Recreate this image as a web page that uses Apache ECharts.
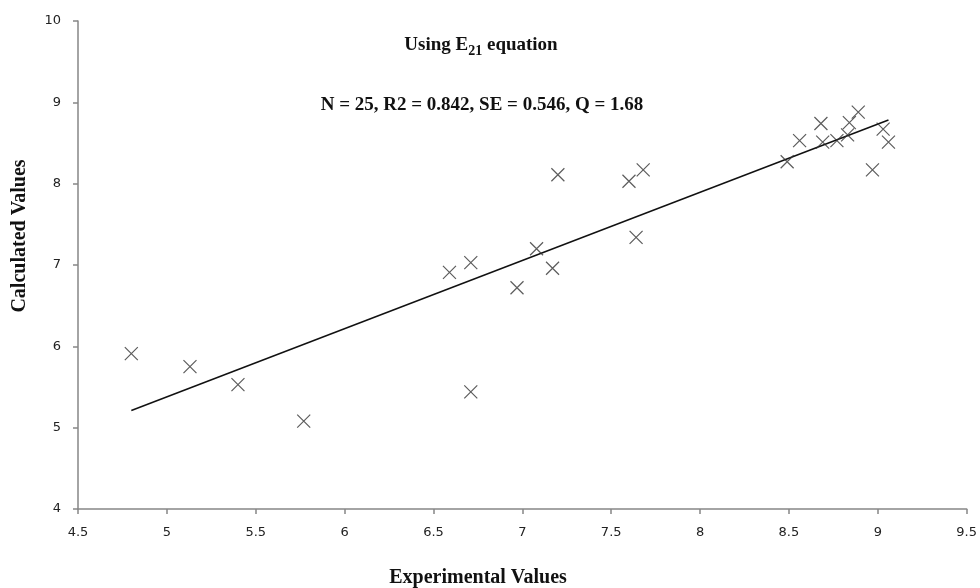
<!DOCTYPE html>
<html><head><meta charset="utf-8">
<script src="https://cdn.jsdelivr.net/npm/echarts@6/dist/echarts.min.js"></script>
<style>html,body{margin:0;padding:0;background:#fff}#c{width:980px;height:588px}</style>
</head><body><div id="c"></div>
<script>
const experimental = [4.80, 5.13, 5.40, 5.77, 6.59, 6.71, 6.71, 6.97, 7.08, 7.17, 7.20, 7.60, 7.68, 7.64,
  8.49, 8.56, 8.68, 8.69, 8.77, 8.83, 8.84, 8.89, 9.03, 9.06, 8.97];
const calculated = [5.91, 5.75, 5.53, 5.08, 6.91, 7.03, 5.44, 6.72, 7.20, 6.96, 8.11, 8.03, 8.17, 7.34,
  8.27, 8.53, 8.74, 8.51, 8.53, 8.60, 8.75, 8.88, 8.67, 8.51, 8.17];
const xTicks = [4.5, 5, 5.5, 6, 6.5, 7, 7.5, 8, 8.5, 9, 9.5];
const yTicks = [4, 5, 6, 7, 8, 9, 10];

// least-squares trend line computed from the data
const n = experimental.length;
const mx = experimental.reduce((a,b)=>a+b,0)/n;
const my = calculated.reduce((a,b)=>a+b,0)/n;
let sxy=0, sxx=0;
for (let i=0;i<n;i++){ sxy+=(experimental[i]-mx)*(calculated[i]-my); sxx+=(experimental[i]-mx)**2; }
const slope = sxy/sxx, icpt = my - slope*mx;
const xmin = Math.min(...experimental), xmax = Math.max(...experimental);
const trend = [[xmin, icpt+slope*xmin],[xmax, icpt+slope*xmax]];

const chart = echarts.init(document.getElementById('c'));
const axisCol = '#868686';
const serifBold = {fontFamily:'Liberation Serif',fontWeight:'bold',fill:'#111'};
chart.setOption({
  animation:false,
  backgroundColor:'#fff',
  title:[
    {text:'{a|Using E}{s|21}{a| equation}', left:476, top:31, textAlign:'center',
     textStyle:{rich:{a:{fontFamily:'Liberation Serif',fontWeight:'bold',fontSize:19,color:'#111',verticalAlign:'bottom'},
                      s:{fontFamily:'Liberation Serif',fontWeight:'bold',fontSize:14,color:'#111',verticalAlign:'bottom',padding:[0,0,-3,0]}}}},
    {text:'N = 25, R2 = 0.842, SE = 0.546, Q = 1.68', left:477, top:91, textAlign:'center',
     textStyle:{fontFamily:'Liberation Serif',fontWeight:'bold',fontSize:19,color:'#111'}}
  ],
  graphic:[
    {type:'text', x:20, y:236, rotation:Math.PI/2,
     style:Object.assign({text:'Calculated Values', fontSize:20, align:'center', verticalAlign:'middle'}, serifBold)},
    {type:'text', x:478, y:578,
     style:Object.assign({text:'Experimental Values', fontSize:20, align:'center', verticalAlign:'middle'}, serifBold)}
  ],
  grid:{left:78, top:21, right:13, bottom:79, containLabel:false},
  xAxis:{type:'value', min:4.5, max:9.5, interval:0.5,
    axisLine:{lineStyle:{color:axisCol,width:1.5}},
    axisTick:{length:5,lineStyle:{color:axisCol,width:1.5}},
    axisLabel:{fontFamily:'DejaVu Sans',fontSize:13,color:'#222',margin:17,
      formatter:v=>xTicks.includes(+v.toFixed(2))?String(+v.toFixed(2)):''},
    splitLine:{show:false}},
  yAxis:{type:'value', min:4, max:10, interval:1,
    axisLine:{show:true,lineStyle:{color:axisCol,width:1.5}},
    axisTick:{show:true,length:5,lineStyle:{color:axisCol,width:1.5}},
    axisLabel:{fontFamily:'DejaVu Sans',fontSize:13,color:'#222',margin:17,
      formatter:v=>yTicks.includes(v)?String(v):''},
    splitLine:{show:false}},
  series:[
    {type:'scatter', data:experimental.map((x,i)=>[x,calculated[i]]),
     symbol:'path://M0,0L10,10M10,0L0,10', symbolSize:13,
     itemStyle:{color:'rgba(0,0,0,0)', borderColor:'#333', borderWidth:1.2}, z:3},
    {type:'line', data:trend, symbol:'none', lineStyle:{color:'#111',width:1.5}, z:2}
  ]
});
</script></body></html>
